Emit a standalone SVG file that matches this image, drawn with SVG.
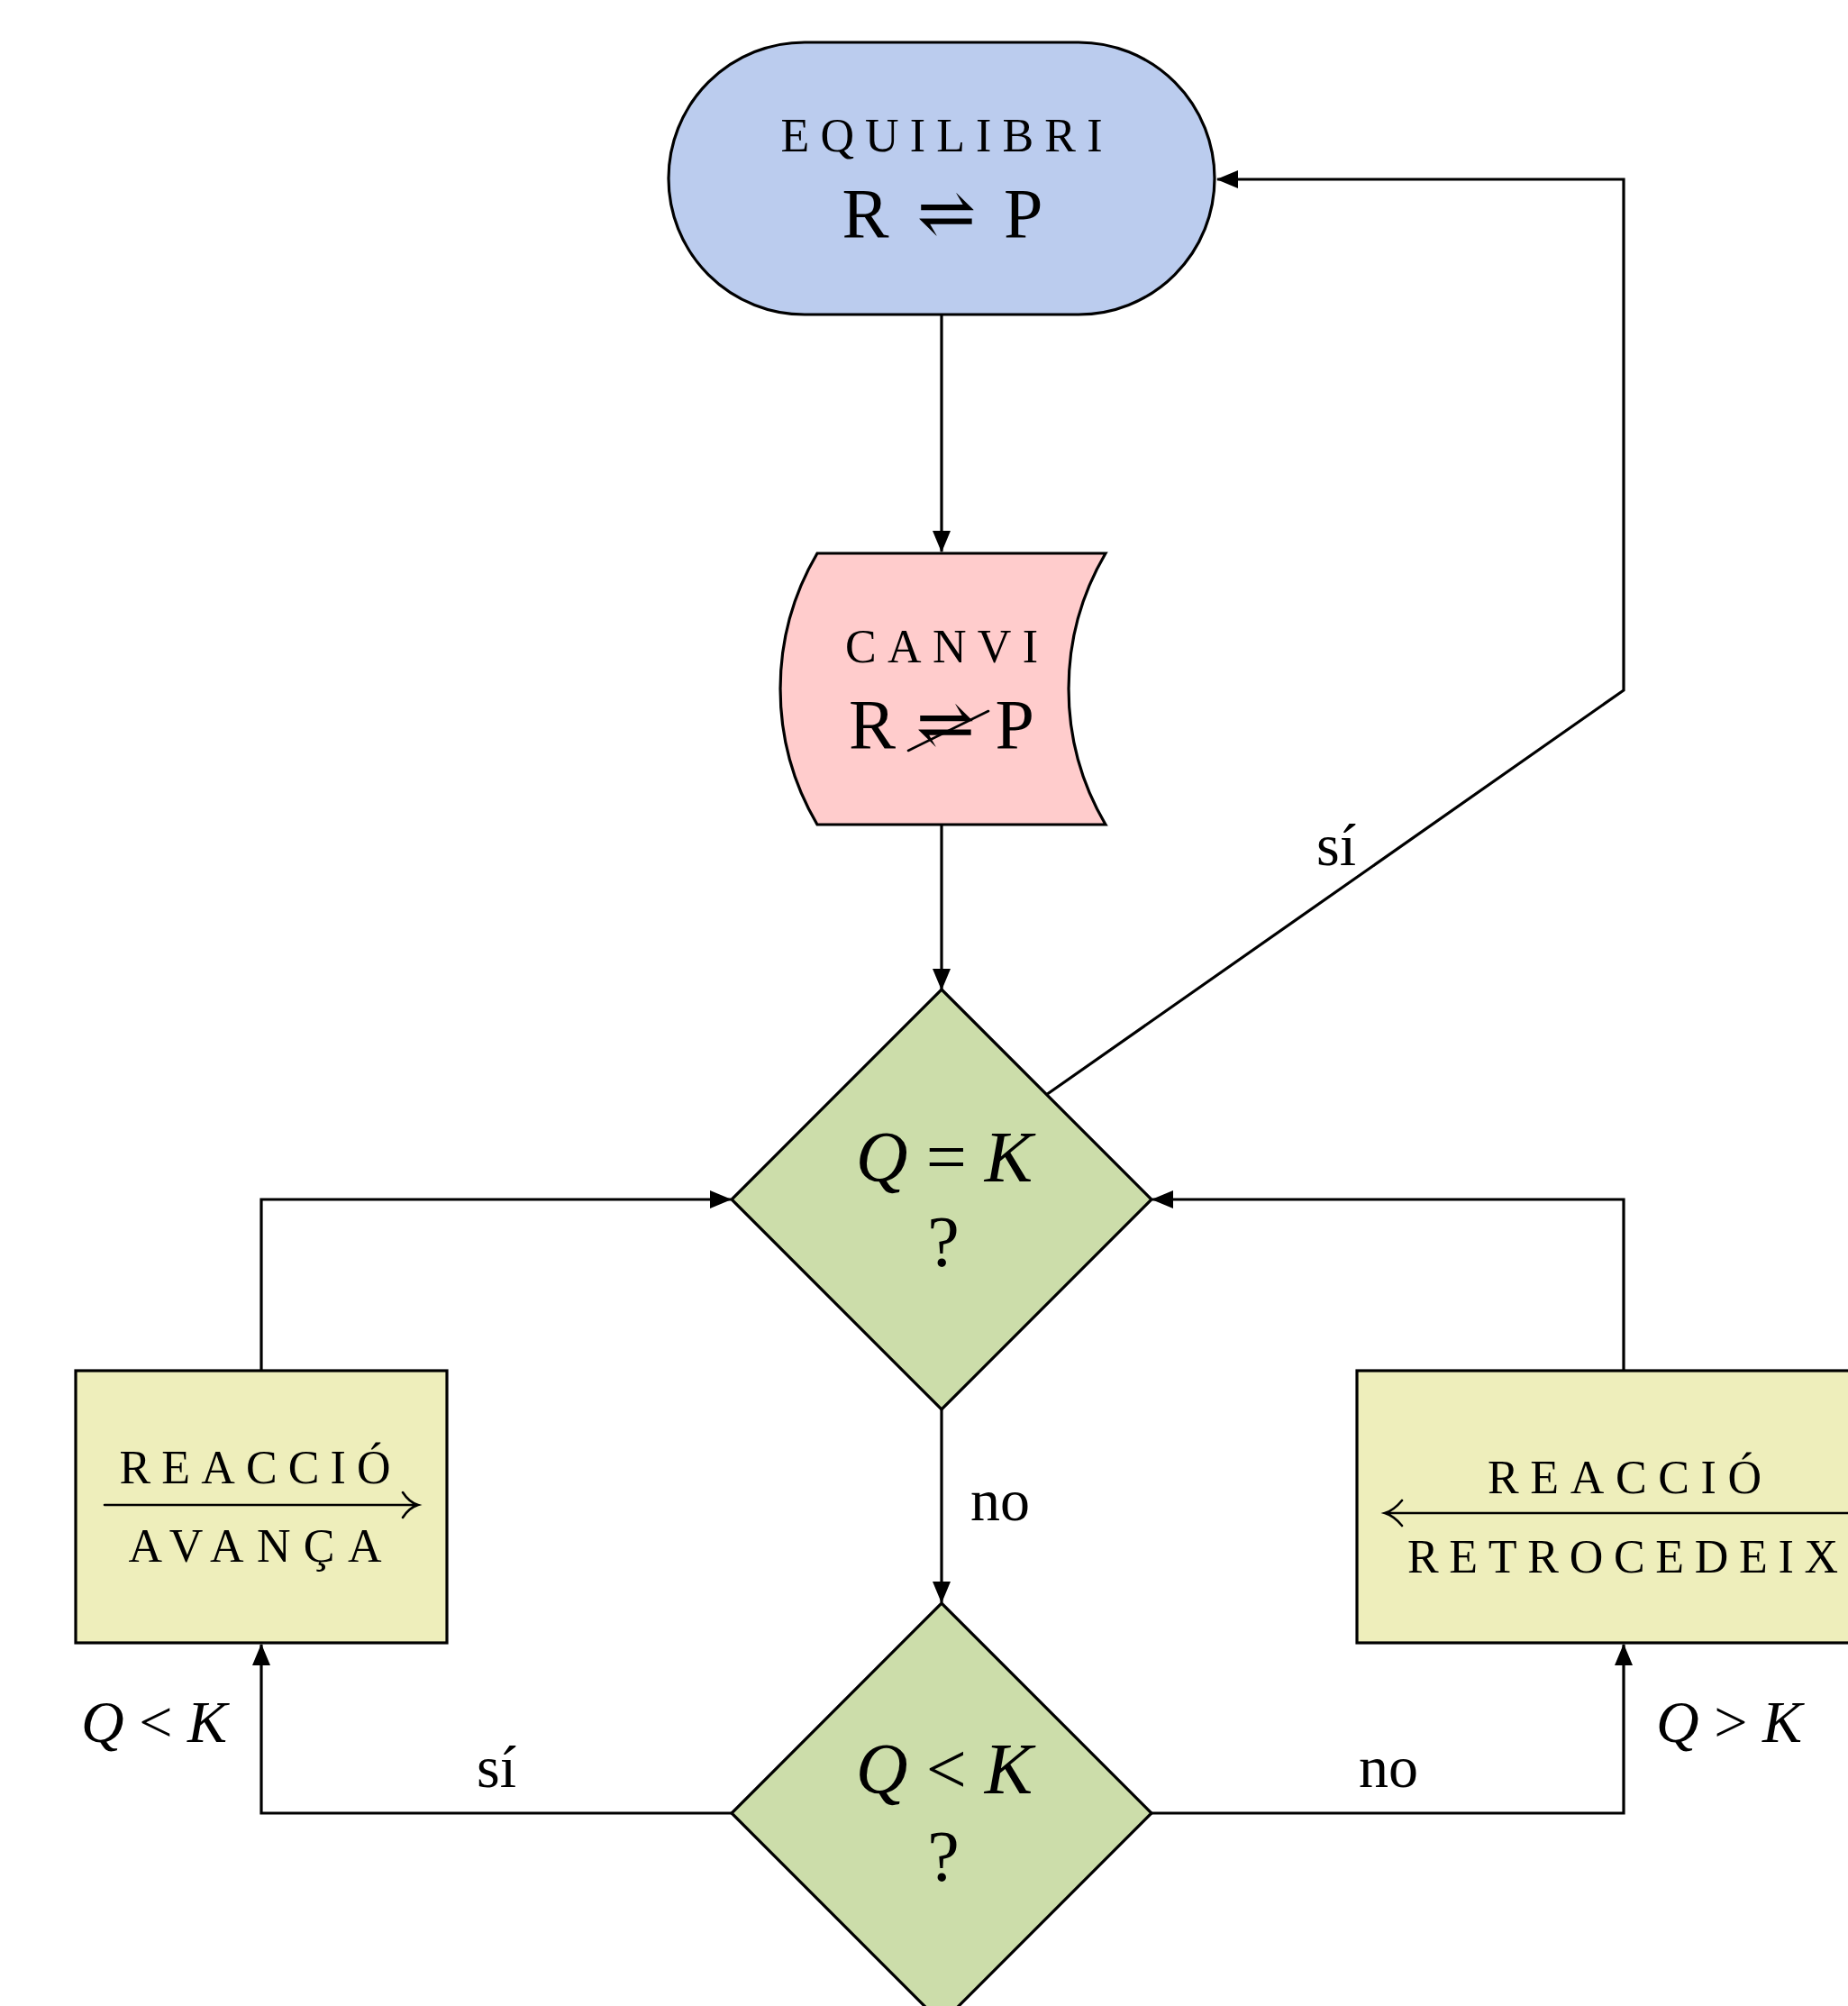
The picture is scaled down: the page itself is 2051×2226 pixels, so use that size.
<svg xmlns="http://www.w3.org/2000/svg" width="2051" height="2226" viewBox="0 0 2051 2226">
<defs>
<style>
.node { stroke: #000; stroke-width: 3.2; }
.term { fill: #BBCCEE; }
.io { fill: #FFCCCC; }
.dec { fill: #CCDDAA; }
.proc { fill: #EEEEBB; }
.conn { fill: none; stroke: #000; stroke-width: 3.2; }
.thin { fill: none; stroke: #000; stroke-width: 2.6; stroke-linecap: round; }
text { font-family: "Liberation Serif", "DejaVu Serif", serif; fill: #000; }
.sc { font-size: 52px; text-anchor: middle; }
.big { font-size: 78px; text-anchor: middle; }
.dm { font-size: 80px; text-anchor: middle; }
.lbl { font-size: 66px; }
.mid { text-anchor: middle; }
.it { font-style: italic; }
</style>
<marker id="arr" viewBox="0 0 24 20" refX="23" refY="10" markerWidth="24" markerHeight="20" markerUnits="userSpaceOnUse" orient="auto">
<path d="M0,0 L24,10 L0,20 Z" fill="#000"/>
</marker>
</defs>
<rect width="2051" height="2226" fill="#fff"/>

<g id="connectors">
<path class="conn" d="M1045 349 L1045 612" marker-end="url(#arr)"/>
<path class="conn" d="M1045 915 L1045 1098" marker-end="url(#arr)"/>
<path class="conn" d="M1161 1215 L1802 766 L1802 199 L1351 199" marker-end="url(#arr)"/>
<path class="conn" d="M1045 1564 L1045 1778" marker-end="url(#arr)"/>
<path class="conn" d="M812 2012 L290 2012 L290 1825" marker-end="url(#arr)"/>
<path class="conn" d="M1278 2012 L1802 2012 L1802 1825" marker-end="url(#arr)"/>
<path class="conn" d="M290 1521 L290 1331 L811 1331" marker-end="url(#arr)"/>
<path class="conn" d="M1802 1521 L1802 1331 L1279 1331" marker-end="url(#arr)"/>
<text class="lbl mid" x="1483" y="960">sí</text>
<text class="lbl" x="1077" y="1687">no</text>
<text class="lbl mid" x="551" y="1983">sí</text>
<text class="lbl mid" x="1541" y="1983">no</text>
<text class="lbl mid" x="171" y="1933"><tspan class="it">Q</tspan> &lt; <tspan class="it">K</tspan></text>
<text class="lbl mid" x="1919" y="1933"><tspan class="it">Q</tspan> &gt; <tspan class="it">K</tspan></text>
</g>

<g id="equilibri">
<rect class="node term" x="742" y="47" width="606" height="302" rx="151" ry="151"/>
<text class="sc" x="1045" y="168" textLength="357" lengthAdjust="spacing">EQUILIBRI</text>
<text class="big" x="1046" y="263" textLength="223" lengthAdjust="spacing">R ⇌ P</text>
</g>

<g id="canvi">
<path class="node io" d="M907 614 L1227 614 A297 297 0 0 0 1227 915 L907 915 A297 297 0 0 1 907 614 Z"/>
<text class="sc" x="1045" y="735" textLength="214" lengthAdjust="spacing">CANVI</text>
<text class="big" x="1045" y="830" textLength="206" lengthAdjust="spacing">R ⇌ P</text>
<line class="thin" x1="1008" y1="833" x2="1097" y2="789"/>
</g>

<g id="decisio-igual">
<polygon class="node dec" points="1045,1098 1278,1331 1045,1564 812,1331"/>
<text class="dm" x="1048" y="1311"><tspan class="it">Q</tspan> = <tspan class="it">K</tspan></text>
<text class="dm" x="1047" y="1405">?</text>
</g>

<g id="decisio-menor">
<polygon class="node dec" points="1045,1779 1278,2012 1045,2245 812,2012"/>
<text class="dm" x="1048" y="1990"><tspan class="it">Q</tspan> &lt; <tspan class="it">K</tspan></text>
<text class="dm" x="1047" y="2087">?</text>
</g>

<g id="avanca">
<rect class="node proc" x="84" y="1521" width="412" height="302"/>
<text class="sc" x="283" y="1646" textLength="301" lengthAdjust="spacing">REACCIÓ</text>
<path class="thin" d="M116 1670 L462 1670 M447 1656 Q454 1667 464 1670 Q454 1673 447 1684"/>
<text class="sc" x="283" y="1733" textLength="281" lengthAdjust="spacing">AVANÇA</text>
</g>

<g id="retrocedeix">
<rect class="node proc" x="1506" y="1521" width="592" height="302"/>
<text class="sc" x="1803" y="1657" textLength="304" lengthAdjust="spacing">REACCIÓ</text>
<path class="thin" d="M2070 1679 L1539 1679 M1556 1665 Q1547 1676 1537 1679 Q1547 1682 1556 1693"/>
<text class="sc" x="1801" y="1745" textLength="478" lengthAdjust="spacing">RETROCEDEIX</text>
</g>
</svg>
